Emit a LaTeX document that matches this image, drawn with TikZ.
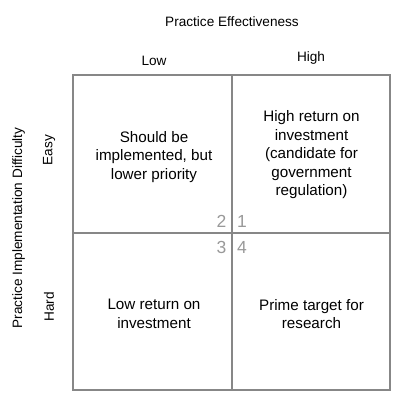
\documentclass[tikz,border=0pt]{standalone}
\usepackage{fontspec}
\setmainfont{Liberation Sans}
\begin{document}
\begin{tikzpicture}[x=1pt,y=-1pt,
  grid/.style={draw=black!47,line width=1.4pt},
  head/.style={font=\fontsize{13.6}{16}\selectfont,inner sep=0pt},
  quad/.style={font=\fontsize{15.2}{18.5}\selectfont,align=center,inner sep=0pt},
  num/.style={font=\fontsize{17.5}{20}\selectfont,text=black!40,inner sep=0pt}]
\useasboundingbox (0,0) rectangle (399,399);
\draw[grid] (73,75) rectangle (390,390);
\coordinate (mt) at (232,75);
\coordinate (mb) at (232,390);
\coordinate (ml) at (73,233);
\coordinate (mr) at (390,233);
\draw[grid] (mt) -- (mb);
\draw[grid] (ml) -- (mr);
\node[head,anchor=base] (title) at (232,26) {Practice Effectiveness};
\node[head,anchor=base] (low) at (154,65) {Low};
\node[head,anchor=base] (high) at (311,61) {High};
\node[head,rotate=90] (ylab) at (18.5,228) {Practice Implementation Difficulty};
\node[head,rotate=90] (easy) at (49,150) {Easy};
\node[head,rotate=90] (hard) at (49,307) {Hard};
\node[quad] (q2) at (154,157) {Should be\\implemented, but\\lower priority};
\node[quad] (q1) at (311.5,155) {High return on\\investment\\(candidate for\\government\\regulation)};
\node[quad] (q3) at (154,314) {Low return on\\investment};
\node[quad] (q4) at (311.5,314) {Prime target for\\research};
\node[num] (n2) at (221.5,221.5) {2};
\node[num] (n1) at (242,221.5) {1};
\node[num] (n3) at (221.5,247.5) {3};
\node[num] (n4) at (242,247.5) {4};
\end{tikzpicture}
\end{document}
